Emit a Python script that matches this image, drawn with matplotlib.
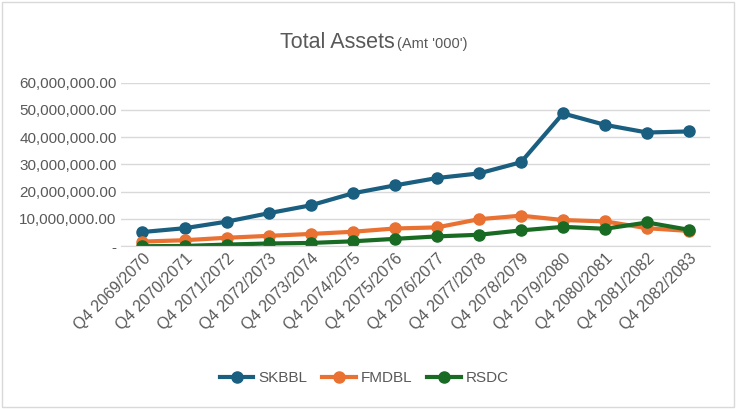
import matplotlib
matplotlib.use("Agg")
import matplotlib.pyplot as plt
from matplotlib.ticker import FuncFormatter

categories = ["Q4 2069/2070","Q4 2070/2071","Q4 2071/2072","Q4 2072/2073","Q4 2073/2074",
              "Q4 2074/2075","Q4 2075/2076","Q4 2076/2077","Q4 2077/2078","Q4 2078/2079",
              "Q4 2079/2080","Q4 2080/2081","Q4 2081/2082","Q4 2082/2083"]
skbbl = [5.2,6.6,9.0,12.1,15.0,19.4,22.3,25.0,26.7,30.8,48.7,44.5,41.7,42.1]
fmdbl = [1.7,2.2,3.1,3.8,4.5,5.3,6.5,6.9,9.9,11.2,9.6,9.1,6.6,5.6]
rsdc = [0.0,0.1,0.6,1.0,1.2,1.8,2.7,3.6,4.2,5.8,7.1,6.4,8.7,6.0]

plt.rcParams['font.family'] = ['Liberation Sans', 'DejaVu Sans']
fig = plt.figure(figsize=(7.36,4.09), dpi=100)
ax = fig.add_axes([0.165, 0.398, 0.8, 0.4])
x = range(len(categories))
for vals, name, c in [(skbbl,"SKBBL","#1a5e80"),(fmdbl,"FMDBL","#e97132"),(rsdc,"RSDC","#196b24")]:
    ax.plot(x, [v*1e6 for v in vals], color=c, lw=3, marker='o', ms=8, label=name)
ax.set_ylim(0, 60e6)
ax.set_yticks([i*10e6 for i in range(7)])
ax.yaxis.set_major_formatter(FuncFormatter(lambda v, p: "-" if v == 0 else f"{v:,.2f}"))
ax.set_xlim(-0.5, len(categories)-0.5)
ax.set_xticks(list(x))
ax.set_xticklabels(categories, rotation=45, ha='right', rotation_mode='anchor')
ax.grid(axis='y', color='#d9d9d9', lw=1)
ax.set_axisbelow(True)
for s in ax.spines.values():
    s.set_visible(False)
ax.spines['bottom'].set_visible(True); ax.spines['bottom'].set_color('#d9d9d9')
ax.tick_params(length=0, labelsize=11.5, colors='#595959')
ax.tick_params(axis='y', labelsize=11)
fig.text(0.537, 0.882, "Total Assets", ha='right', fontsize=15.5, color='#595959')
fig.text(0.54, 0.882, "(Amt '000')", ha='left', fontsize=10.5, color='#595959')
ax.legend(loc='center', bbox_to_anchor=(0.495, 0.075), bbox_transform=fig.transFigure,
          ncol=3, frameon=False, fontsize=11, labelcolor='#595959', handlelength=2.2,
          handletextpad=0.3, columnspacing=1.0)
fig.patches.append(plt.Rectangle((0.003,0.005),0.994,0.99, transform=fig.transFigure,
                                 fill=False, edgecolor='#d9d9d9', lw=1))
fig.savefig("out.png", dpi=100)
